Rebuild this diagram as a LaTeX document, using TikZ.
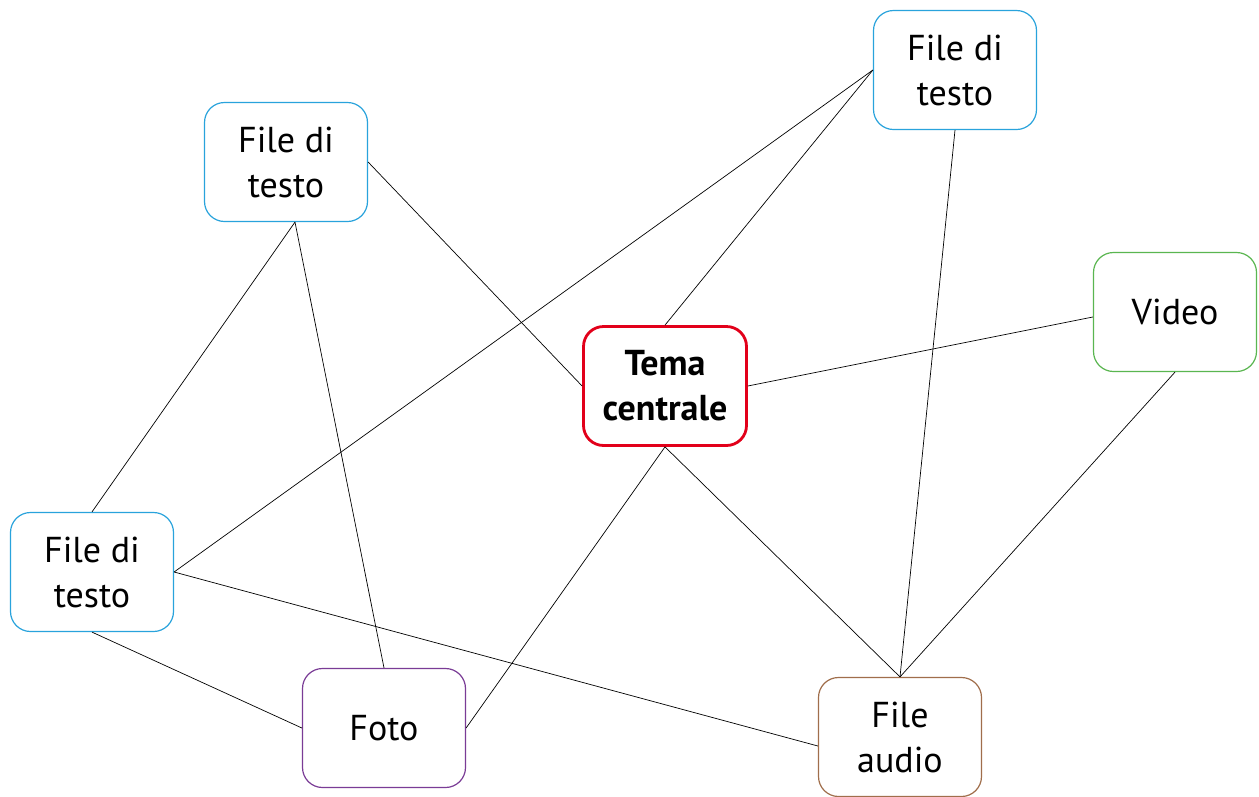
\documentclass[tikz,border=0pt]{standalone}
\usepackage{fontspec}
\setmainfont{PT Sans}
\definecolor{cblue}{RGB}{41,163,220}
\definecolor{cgreen}{RGB}{90,182,80}
\definecolor{cred}{RGB}{226,0,26}
\definecolor{cpurple}{RGB}{122,60,150}
\definecolor{cbrown}{RGB}{160,110,75}
\begin{document}
\begin{tikzpicture}[x=1pt,y=-1pt,
  box/.style={draw, rounded corners=20pt, minimum width=163pt, minimum height=119pt,
    line width=1.2pt, align=center, fill=white,
    font=\fontsize{36}{45}\selectfont, inner sep=0pt},
  link/.style={draw=black, line width=0.7pt}]
\useasboundingbox (0,0) rectangle (1259,796);
\fill[white] (0,0) rectangle (1259,796);
% nodes
\node[box, draw=cblue] (TL) at (286,162) {File di\\testo};
\node[box, draw=cblue] (TR) at (955,70) {File di\\testo};
\node[box, draw=cgreen] (V) at (1175,312) {Video};
\node[box, draw=cred, line width=2.8pt, font=\fontsize{36}{45}\selectfont\bfseries] (T) at (665,386) {Tema\\centrale};
\node[box, draw=cblue] (L) at (92,572) {File di\\testo};
\node[box, draw=cpurple] (F) at (384,728) {Foto};
\node[box, draw=cbrown] (A) at (900,737) {File\\audio};
% links
\begin{scope}[on background layer/.style={}]
\end{scope}
\path[link] (TL.east) -- (T.west);
\path[link] ([xshift=9pt]TL.south) -- (L.north);
\path[link] ([xshift=9pt]TL.south) -- (F.north);
\path[link] (TR.west) -- (T.north);
\path[link] (TR.west) -- (L.east);
\path[link] (TR.south) -- (A.north);
\path[link] ([yshift=-5pt]V.west) -- (T.east);
\path[link] (V.south) -- (A.north);
\path[link] (T.south) -- (F.east);
\path[link] (T.south) -- (A.north);
\path[link] (L.east) -- ([yshift=-9pt]A.west);
\path[link] (L.south) -- (F.west);
\end{tikzpicture}
\end{document}
